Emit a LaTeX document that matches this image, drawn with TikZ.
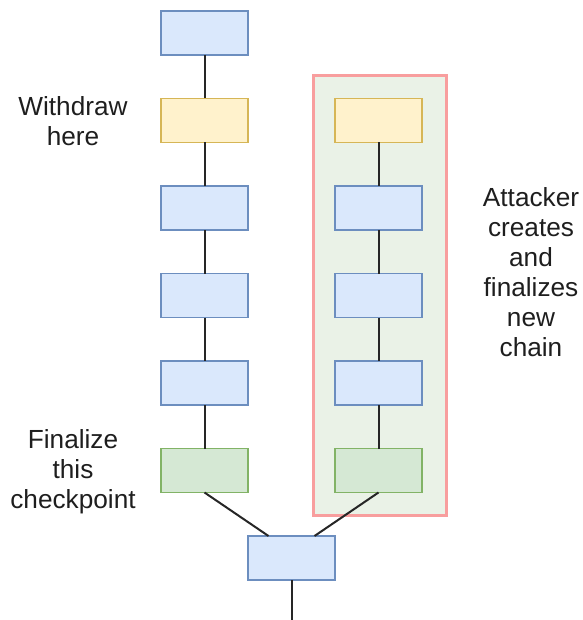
\documentclass[tikz,border=0pt]{standalone}
\usepackage{fontspec}
\setmainfont{Liberation Sans}
\usetikzlibrary{calc}
\definecolor{bluefill}{HTML}{DAE8FC}
\definecolor{bluedraw}{HTML}{6C8EBF}
\definecolor{yelfill}{HTML}{FFF2CC}
\definecolor{yeldraw}{HTML}{D6B656}
\definecolor{grnfill}{HTML}{D5E8D4}
\definecolor{grndraw}{HTML}{82B366}
\definecolor{zonefill}{RGB}{234,242,231}
\definecolor{zonedraw}{RGB}{248,158,158}
\definecolor{txt}{RGB}{30,30,30}
\tikzset{
  blk/.style={draw, line width=1.9pt, minimum width=87pt, minimum height=44pt, inner sep=0pt, outer sep=0pt},
  bblk/.style={blk, fill=bluefill, draw=bluedraw},
  yblk/.style={blk, fill=yelfill, draw=yeldraw},
  gblk/.style={blk, fill=grnfill, draw=grndraw},
  link/.style={draw=black!85, line width=2pt},
  note/.style={align=center, text=txt, font=\fontsize{26.2}{30}\selectfont, inner sep=0pt}
}
\begin{document}
\begin{tikzpicture}[x=1pt, y=-1pt]
\useasboundingbox (0,0) rectangle (582,620);

% attacker zone
\node[draw=zonedraw, fill=zonefill, line width=3pt, minimum width=133pt, minimum height=439pt, inner sep=0pt] (zone) at (379.5,295.5) {};

% honest chain
\node[bblk] (a1) at (204.5,33) {};
\node[yblk] (a2) at (204.5,120.5) {};
\node[bblk] (a3) at (204.5,208) {};
\node[bblk] (a4) at (204.5,295.5) {};
\node[bblk] (a5) at (204.5,383) {};
\node[gblk] (a6) at (204.5,470.5) {};

% attacker chain
\node[yblk] (b2) at (378.5,120.5) {};
\node[bblk] (b3) at (378.5,208) {};
\node[bblk] (b4) at (378.5,295.5) {};
\node[bblk] (b5) at (378.5,383) {};
\node[gblk] (b6) at (378.5,470.5) {};

% common ancestor
\node[bblk] (root) at (291.5,558) {};
\coordinate (tail) at (291.5,620);

% connectors
\draw[link] (a1) -- (a2);
\draw[link] (a2) -- (a3);
\draw[link] (a3) -- (a4);
\draw[link] (a4) -- (a5);
\draw[link] (a5) -- (a6);
\draw[link] (b2) -- (b3);
\draw[link] (b3) -- (b4);
\draw[link] (b4) -- (b5);
\draw[link] (b5) -- (b6);
\draw[link] (a6.south) -- ($(root.north)+(-23,0)$);
\draw[link] (b6.south) -- ($(root.north)+(23,0)$);
\draw[link] (root.south) -- (tail);

% labels
\node[note] (n1) at (73,121) {Withdraw\\here};
\node[note] (n2) at (73,472) {Finalize\\this\\checkpoint};
\node[note] (n3) at (531,272) {Attacker\\creates\\and\\finalizes\\new\\chain};
\end{tikzpicture}
\end{document}
